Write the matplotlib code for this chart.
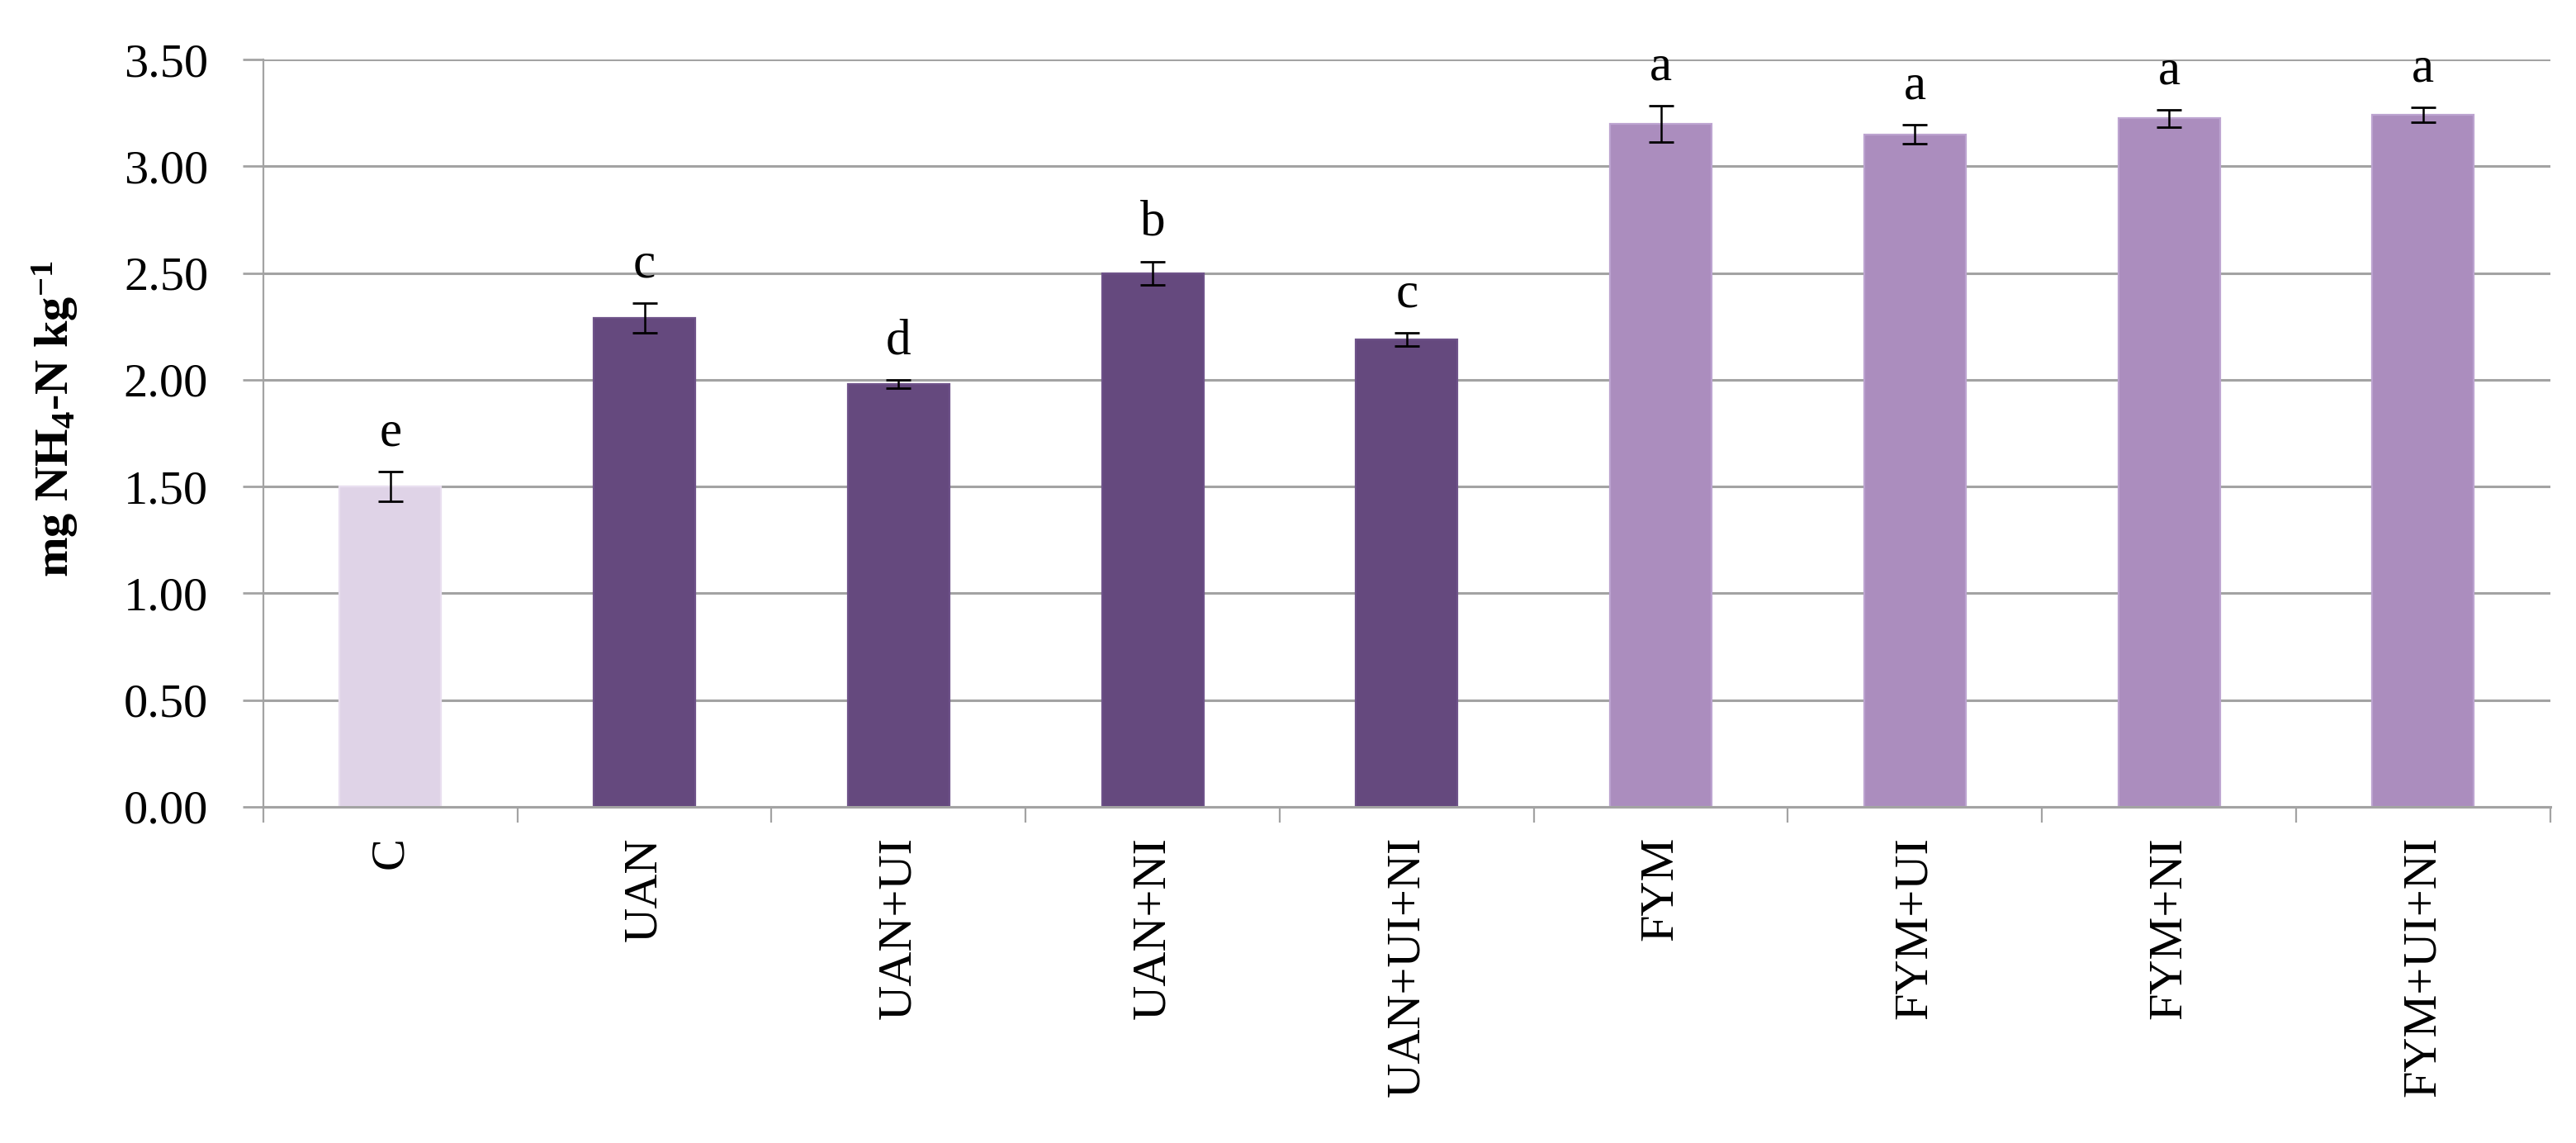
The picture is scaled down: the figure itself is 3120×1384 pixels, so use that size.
import matplotlib
matplotlib.use("Agg")
import matplotlib.pyplot as plt
import numpy as np

categories = ["C", "UAN", "UAN+UI", "UAN+NI", "UAN+UI+NI",
              "FYM", "FYM+UI", "FYM+NI", "FYM+UI+NI"]
means = [1.50, 2.29, 1.98, 2.50, 2.19, 3.20, 3.15, 3.225, 3.24]
errors = [0.07, 0.07, 0.02, 0.055, 0.03, 0.085, 0.045, 0.04, 0.035]
letters = ["e", "c", "d", "b", "c", "a", "a", "a", "a"]
groups = ["control", "uan", "uan", "uan", "uan", "fym", "fym", "fym", "fym"]

fill = {"control": "#DFD3E7", "uan": "#65497E", "fym": "#AB8DBE"}
edge = {"control": "#E9DFF0", "uan": "#6E5289", "fym": "#BCA3D0"}

serif = ["Liberation Serif", "DejaVu Serif"]
plt.rcParams["font.family"] = serif
plt.rcParams["mathtext.default"] = "regular"

fig = plt.figure(figsize=(15.6, 6.92), dpi=200)
ax = fig.add_axes([0.1022, 0.2941, 0.8878, 0.6537])

x = np.arange(len(categories))
grid_c = "#A3A3A3"

ax.bar(x, means, width=0.4,
       color=[fill[g] for g in groups],
       edgecolor=[edge[g] for g in groups], linewidth=0.8, zorder=2)
ax.errorbar(x, means, yerr=errors, fmt="none", ecolor="black",
            elinewidth=0.9, capsize=5.4, capthick=1.0, zorder=3)

for xi, m, e, lab in zip(x, means, errors, letters):
    ax.text(xi, m + e + 0.18, lab, ha="center", va="center",
            fontsize=22, color="black")

ax.set_xlim(-0.5, len(categories) - 0.5)
ax.set_ylim(0, 3.5)
ax.set_yticks(np.arange(0, 3.51, 0.5))
ax.set_yticklabels([f"{v:.2f}" for v in np.arange(0, 3.51, 0.5)])
ax.yaxis.grid(True, color=grid_c, linewidth=1.1, zorder=0)
ax.set_axisbelow(True)

ax.set_xticks(x)
ax.set_xticklabels(categories, rotation=90, va="top", ha="center")
ax.set_xticks(np.arange(-0.5, len(categories), 1.0), minor=True)
ax.tick_params(axis="x", which="major", length=0, pad=13, labelsize=21)
ax.tick_params(axis="x", which="minor", length=7, width=0.8, color=grid_c)
ax.tick_params(axis="y", which="major", length=9, width=1.0, color=grid_c,
               pad=15, labelsize=21)

for side in ["top", "right"]:
    ax.spines[side].set_visible(False)
ax.spines["left"].set_color(grid_c)
ax.spines["left"].set_linewidth(0.8)
ax.spines["bottom"].set_color(grid_c)
ax.spines["bottom"].set_linewidth(1.1)

fig.text(0.0215, 0.634, r"mg NH$_4$-N kg$^{-1}$", rotation=90,
         ha="center", va="center", fontsize=21, fontweight="bold")

fig.savefig("out.png", dpi=200, facecolor="white")
